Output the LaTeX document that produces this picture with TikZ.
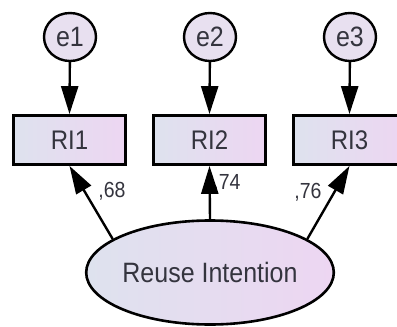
\documentclass[tikz,border=0pt]{standalone}
\usepackage{fontspec}
\setmainfont{Liberation Sans}
\usetikzlibrary{shapes.geometric,arrows.meta}
\definecolor{txt}{HTML}{34343E}
\definecolor{fillL}{HTML}{DEE2EE}
\definecolor{fillR}{HTML}{EDD6F2}
\definecolor{circfill}{HTML}{E8E0F0}
\tikzset{
  errnode/.style={ellipse, draw=black, line width=2.4pt, minimum width=52pt, minimum height=48pt, inner sep=0pt, fill=circfill, text=txt, font=\fontsize{25}{25}\selectfont},
  obsbox/.style={rectangle, draw=black, line width=2.8pt, minimum width=112pt, minimum height=49pt, inner sep=0pt, left color=fillL, right color=fillR, text=txt, font=\fontsize{24}{24}\selectfont},
  latentnode/.style={ellipse, draw=black, line width=2.6pt, minimum width=230pt, minimum height=104pt, inner sep=0pt, left color=fillL, right color=fillR, text=txt, font=\fontsize{25}{25}\selectfont},
  pathlabel/.style={text=txt, inner sep=0pt, font=\fontsize{19.5}{19.5}\selectfont},
  arr/.style={line width=2.4pt, -{Triangle[length=28pt,width=17pt]}}
}
\newcommand{\vstretch}[1]{\scalebox{1}[1.12]{#1}}
\begin{document}
\begin{tikzpicture}[x=1pt,y=-1pt]
\useasboundingbox (0,0) rectangle (397,327);
\clip (0,0) rectangle (397,327);
\node[errnode] (e1) at (70,37) {\vstretch{e1}};
\node[errnode] (e2) at (210,37) {\vstretch{e2}};
\node[errnode] (e3) at (350,37) {\vstretch{e3}};
\node[obsbox] (RI1) at (69.5,140) {\vstretch{RI1}};
\node[obsbox] (RI2) at (209.5,140) {\vstretch{RI2}};
\node[obsbox] (RI3) at (349.5,140) {\vstretch{RI3}};
\node[latentnode] (RIE) at (210,272.5) {\vstretch{Reuse Intention}};
\node[pathlabel] (l1) at (112,191) {\vstretch{,68}};
\node[pathlabel] (l2) at (227,183) {\vstretch{,74}};
\node[pathlabel] (l3) at (308,192) {\vstretch{,76}};
\draw[arr] (e1) -- (RI1.north);
\draw[arr] (e2) -- (RI2.north);
\draw[arr] (e3) -- (RI3.north);
\draw[arr] (RIE.161) -- (RI1.south);
\draw[arr] (RIE.north) -- (RI2.south);
\draw[arr] (RIE.19.5) -- (RI3.south);
\end{tikzpicture}
\end{document}
